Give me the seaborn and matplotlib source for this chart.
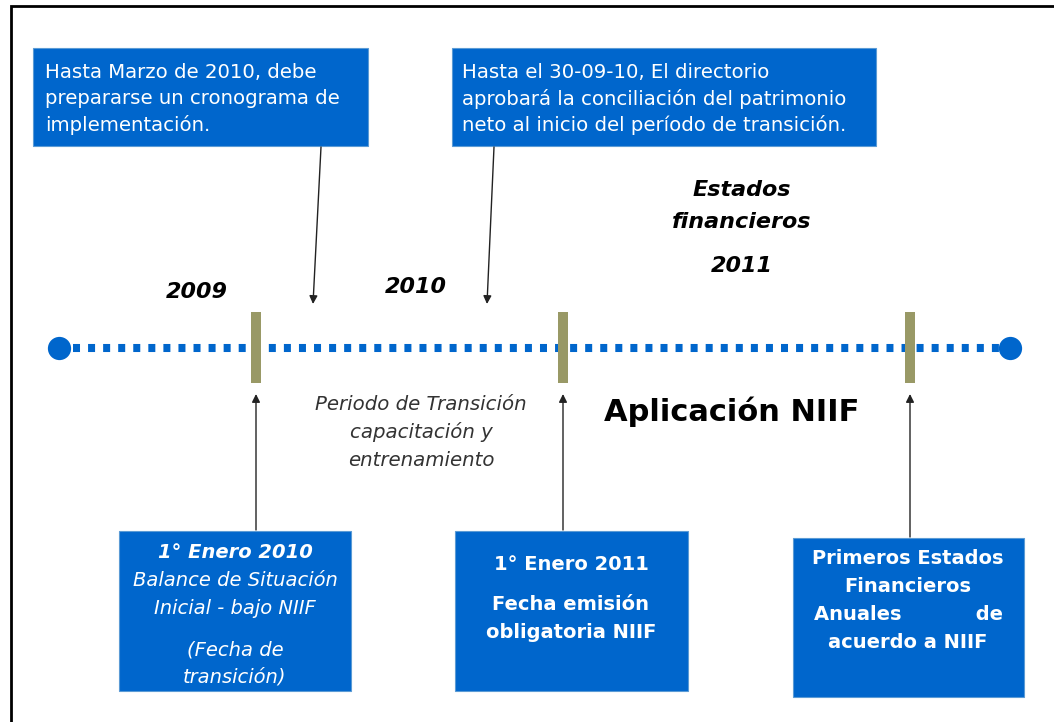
import matplotlib
matplotlib.use("Agg")
import matplotlib.pyplot as plt
from matplotlib.patches import Rectangle
import pandas as pd
import seaborn as sns

# --- content -------------------------------------------------------------
top_notes = [
    ["Hasta Marzo de 2010, debe", "prepararse un cronograma de", "implementación."],
    ["Hasta el 30-09-10, El directorio", "aprobará la conciliación del patrimonio",
     "neto al inicio del período de transición."],
]
year_labels = ["2009", "2010", "Estados", "financieros", "2011"]
period_lines = ["Periodo de Transición", "capacitación y", "entrenamiento"]
apply_label = "Aplicación NIIF"

box_a_lines = ["1° Enero 2010", "Balance de Situación", "Inicial - bajo NIIF", "(Fecha de", "transición)"]
box_a_styles = ["bi", "i", "i", "i", "i"]
box_b_lines = ["1° Enero 2011", "Fecha emisión", "obligatoria NIIF"]
box_c_lines = ["Primeros Estados", "Financieros", "Anuales           de", "acuerdo a NIIF"]

# timeline geometry (pixel space, y grows downward)
line_x = [59, 1010]
line_y = 348
milestone_x = [256, 563, 910]

BLUE = "#0066CC"
OLIVE = "#999966"

# --- figure --------------------------------------------------------------
sns.set_theme(style="white")
plt.rcParams["font.family"] = ["DejaVu Sans"]

fig = plt.figure(figsize=(10.54, 7.22), dpi=100)
ax = fig.add_axes([0, 0, 1, 1])

# frame (left + top edges)
ax.plot([10.5, 10.5, 1054], [722, 5.5, 5.5], color="black", lw=2.0,
        solid_joinstyle="miter", zorder=1)

# dotted timeline
dash_df = pd.DataFrame({"x": [73, 1000], "y": [line_y, line_y]})
sns.lineplot(data=dash_df, x="x", y="y", ax=ax, color=BLUE, lw=5.8, zorder=2)
ax.lines[-1].set_dashes((0.87, 1.0))
ax.lines[-1].set_dash_capstyle("butt")

# end dots
sns.scatterplot(x=line_x, y=[line_y] * 2, ax=ax, s=280, color=BLUE,
                edgecolor=BLUE, linewidth=0, zorder=3)

# milestone bars
ax.vlines(milestone_x, 312, 383, colors=OLIVE, lw=7.2, zorder=4)

# boxes
def box(x0, y0, x1, y1):
    ax.add_patch(Rectangle((x0, y0), x1 - x0, y1 - y0, facecolor=BLUE,
                           edgecolor="#5b9bd5", lw=0.8, zorder=2))

box(33, 48, 368, 146)
box(452, 48, 876, 146)
box(119, 531, 351, 691)
box(455, 531, 688, 691)
box(793, 538, 1024, 697)

# top note texts
for lines, x0 in zip(top_notes, [45, 462]):
    for line, y in zip(lines, [72, 99, 125]):
        ax.text(x0, y, line, color="white", fontsize=14.2, ha="left",
                va="center", zorder=5)

# arrows
arr = dict(arrowstyle="-|>", lw=1.0, color="#222222", mutation_scale=12,
           shrinkA=0, shrinkB=0)
for (x0, y0), (x1, y1) in [((321, 147), (313, 304)), ((494, 147), (487, 304)),
                           ((256, 530), (256, 394)), ((563, 530), (563, 394)),
                           ((910, 537), (910, 394))]:
    ax.annotate("", xy=(x1, y1), xytext=(x0, y0), arrowprops=arr, zorder=5)

# year labels
for lab, (x, y) in zip(year_labels, [(197, 292), (416, 287), (742, 190),
                                     (742, 222), (742, 266)]):
    ax.text(x, y, lab, fontsize=16, fontweight="bold", style="italic",
            color="black", ha="center", va="center", zorder=5)

for lab, y in zip(period_lines, [404, 432, 460]):
    ax.text(421, y, lab, fontsize=14.2, style="italic", color="#333333",
            ha="center", va="center", zorder=5)

ax.text(732, 412, apply_label, fontsize=22, fontweight="bold", color="black",
        ha="center", va="center", zorder=5)

# bottom box texts
for lab, st, y in zip(box_a_lines, box_a_styles, [553, 581, 608, 650, 677]):
    ax.text(235, y, lab, fontsize=14, color="white", ha="center", va="center",
            style="italic", fontweight="bold" if "b" in st else "normal", zorder=5)

for lab, y in zip(box_b_lines, [565, 605, 633]):
    ax.text(571, y, lab, fontsize=14, color="white", fontweight="bold",
            ha="center", va="center", zorder=5)

for lab, y in zip(box_c_lines, [559, 586, 614, 642]):
    ax.text(908, y, lab, fontsize=14, color="white", fontweight="bold",
            ha="center", va="center", zorder=5)

ax.set_xlim(0, 1054)
ax.set_ylim(722, 0)
ax.axis("off")

fig.savefig("out.png", dpi=100)
